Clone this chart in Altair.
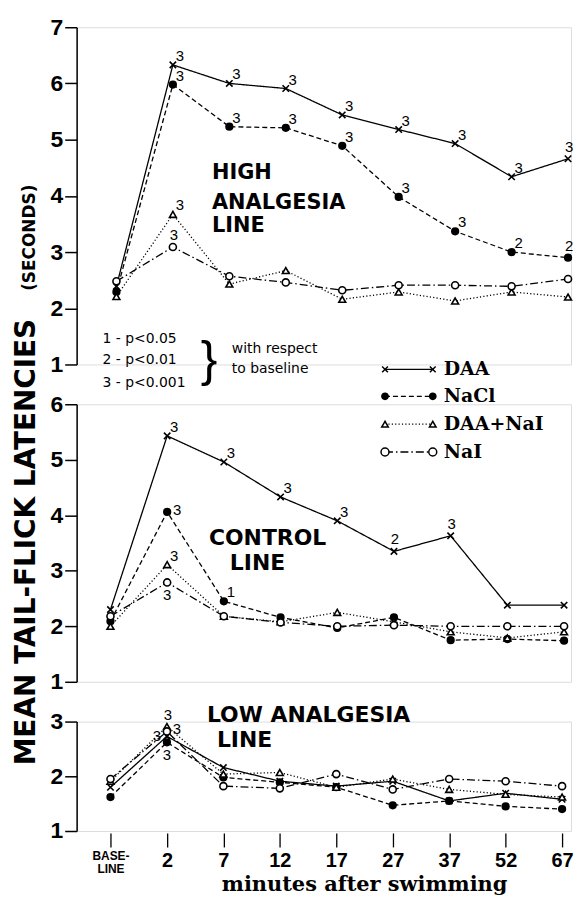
import altair as alt
import pandas as pd

# ---------------- data ----------------
cats = ["BASE-LINE", "2", "7", "12", "17", "27", "37", "52", "67"]
series = ["DAA", "NaCl", "DAA+NaI", "NaI"]

high_daa = [2.39, 6.33, 6.00, 5.91, 5.44, 5.18, 4.93, 4.34, 4.66]
high_nacl = [2.29, 5.98, 5.23, 5.21, 4.89, 3.98, 3.37, 3.00, 2.90]
high_daa_nai = [2.21, 3.67, 2.43, 2.67, 2.16, 2.29, 2.13, 2.29, 2.20]
high_nai = [2.48, 3.09, 2.57, 2.46, 2.32, 2.41, 2.41, 2.39, 2.52]

control_daa = [2.30, 5.43, 4.96, 4.33, 3.90, 3.35, 3.63, 2.38, 2.38]
control_nacl = [2.09, 4.06, 2.45, 2.16, 1.97, 2.16, 1.75, 1.77, 1.74]
control_daa_nai = [2.00, 3.11, 2.18, 2.08, 2.25, 2.08, 1.90, 1.79, 1.90]
control_nai = [2.18, 2.79, 2.18, 2.07, 2.00, 2.02, 2.00, 2.00, 2.00]

low_daa = [1.80, 2.73, 2.16, 1.91, 1.82, 1.91, 1.55, 1.69, 1.58]
low_nacl = [1.62, 2.62, 1.98, 1.89, 1.80, 1.47, 1.55, 1.45, 1.40]
low_daa_nai = [1.91, 2.91, 2.04, 2.07, 1.80, 1.95, 1.76, 1.67, 1.62]
low_nai = [1.95, 2.82, 1.82, 1.78, 2.04, 1.76, 1.95, 1.91, 1.82]

# y tick values of each panel
high_ticks = [1, 2, 3, 4, 5, 6, 7]
control_ticks = [1, 2, 3, 4, 5, 6]
low_ticks = [1, 2, 3]

# significance marks: series, category, label, placement
high_sig_series = ["DAA"] * 8 + ["NaCl"] * 8 + ["DAA+NaI", "NaI"]
high_sig_cat = cats[1:] + cats[1:] + ["2", "2"]
high_sig_text = ["3"] * 8 + ["3"] * 6 + ["2", "2"] + ["3", "3"]
high_sig_pos = ["ne"] * 7 + ["n"] + ["ne"] * 7 + ["n"] + ["ne", "n"]

control_sig_series = ["DAA"] * 6 + ["NaCl", "NaCl", "DAA+NaI", "NaI"]
control_sig_cat = ["2", "7", "12", "17", "27", "37", "2", "7", "2", "2"]
control_sig_text = ["3", "3", "3", "3", "2", "3", "3", "1", "3", "3"]
control_sig_pos = ["ne", "ne", "ne", "ne", "n", "n", "e", "ne", "ne", "s"]

low_sig_series = ["DAA+NaI", "DAA", "NaI", "NaCl"]
low_sig_cat = ["2", "2", "2", "2"]
low_sig_text = ["3", "3", "3", "3"]
low_sig_pos = ["n", "w", "e", "s"]

legend_labels = ["DAA", "NaCl", "DAA+NaI", "NaI"]
sig_note = ["1 - p<0.05", "2 - p<0.01", "3 - p<0.001"]
sig_note_right = ["with respect", "to baseline"]

# ---------------- styles ----------------
dash_range = [[1, 0], [5, 3], [1.2, 2.2], [8, 3, 1.5, 3]]
shape_range = ["M-1,-1L1,1M-1,1L1,-1", "circle", "triangle-up", "circle"]
fill_range = ["black", "black", "white", "white"]
size_range = [42, 50, 55, 80]
offsets = {"ne": (7, -9), "n": (1, -12), "s": (0, 13), "e": (10, -2), "w": (-10, 0)}

W = 497


def text_mark(text, x, y, size, font="DejaVu Sans", weight="bold",
              align="left", angle=0, baseline="alphabetic"):
    return alt.Chart(pd.DataFrame({"t": [text]})).mark_text(
        align=align, baseline=baseline, font=font, fontSize=size,
        fontWeight=weight, angle=angle, color="black"
    ).encode(x=alt.value(x), y=alt.value(y), text="t:N")


def make_panel(vals, sig, ymax, height, xrange, tick_values, xaxis, extras):
    rows = []
    for s in series:
        for i, c in enumerate(cats):
            rows.append({"series": s, "cat": c, "idx": i, "value": vals[s][i]})
    df = pd.DataFrame(rows)

    xenc = alt.X("cat:O", scale=alt.Scale(type="point", domain=cats, range=xrange, padding=0),
                 axis=xaxis, title=None)
    yenc = alt.Y("value:Q", scale=alt.Scale(domain=[1, ymax], nice=False, zero=False),
                 axis=alt.Axis(values=tick_values, labelExpr="format(datum.value, 'd')",
                               tickSize=12, tickWidth=1.5, domainWidth=1.5,
                               tickColor="black", domainColor="black", labelColor="black",
                               labelFont="Liberation Sans", labelFontWeight="bold",
                               labelFontSize=23, labelPadding=2, labelOverlap=False,
                               labelFlush=False, labelBound=False, grid=False),
                 title=None)

    lines = alt.Chart(df).mark_line(color="black", strokeWidth=1.3).encode(
        x=xenc, y=yenc,
        strokeDash=alt.StrokeDash("series:N", scale=alt.Scale(domain=series, range=dash_range), legend=None),
        order=alt.Order("idx:Q"),
    )
    points = alt.Chart(df).mark_point(filled=True, stroke="black", strokeWidth=1.6, opacity=1).encode(
        x=xenc, y=yenc,
        shape=alt.Shape("series:N", scale=alt.Scale(domain=series, range=shape_range), legend=None),
        fill=alt.Fill("series:N", scale=alt.Scale(domain=series, range=fill_range), legend=None),
        size=alt.Size("series:N", scale=alt.Scale(domain=series, range=size_range), legend=None),
    )
    layers = [lines, points]

    s_series, s_cat, s_text, s_pos = sig
    srows = []
    for s, c, t, p in zip(s_series, s_cat, s_text, s_pos):
        srows.append({"series": s, "cat": c, "label": t, "pos": p,
                      "value": vals[s][cats.index(c)]})
    sdf = pd.DataFrame(srows)
    for p, (dx, dy) in offsets.items():
        sub = sdf[sdf["pos"] == p]
        if len(sub) == 0:
            continue
        layers.append(alt.Chart(sub).mark_text(
            font="Liberation Sans", fontSize=15, dx=dx, dy=dy, color="black",
            align="center", baseline="middle").encode(x=xenc, y=yenc, text="label:N"))
    layers += extras
    return alt.layer(*layers).properties(width=W, height=height)


high = {"DAA": high_daa, "NaCl": high_nacl, "DAA+NaI": high_daa_nai, "NaI": high_nai}
control = {"DAA": control_daa, "NaCl": control_nacl, "DAA+NaI": control_daa_nai, "NaI": control_nai}
low = {"DAA": low_daa, "NaCl": low_nacl, "DAA+NaI": low_daa_nai, "NaI": low_nai}

# annotations for the top panel
high_extras = [
    text_mark("HIGH", 136, 153, 21),
    text_mark("ANALGESIA", 136, 183, 21),
    text_mark("LINE", 136, 206, 21),
]

# legend + notes + y title (drawn relative to the middle panel)
legend_y = [-35, -8, 20, 48]
control_extras = [
    text_mark("CONTROL", 133, 141, 22),
    text_mark("LINE", 154, 167, 22),
    text_mark("MEAN TAIL-FLICK LATENCIES", -42, 363, 28, angle=270),
    text_mark("(SECONDS)", -42, -114, 17, angle=270),
]
for i, s in enumerate(series):
    yv = legend_y[i]
    one = pd.DataFrame({"series": [s]})
    control_extras.append(
        alt.Chart(one).mark_rule(color="black", strokeWidth=1.3, strokeDash=dash_range[i]).encode(
            x=alt.value(310), x2=alt.value(358), y=alt.value(yv)))
    for xv in (310, 358):
        control_extras.append(
            alt.Chart(one).mark_point(shape=shape_range[i], size=size_range[i] * 0.8, filled=True,
                                      fill=fill_range[i], stroke="black", strokeWidth=1.5,
                                      opacity=1).encode(x=alt.value(xv), y=alt.value(yv)))
    control_extras.append(text_mark(legend_labels[i], 369, yv, 19, font="DejaVu Serif",
                                    baseline="middle"))
for j, t in enumerate(sig_note):
    control_extras.append(text_mark(t, 26, [-66, -44, -21][j], 14, weight="normal",
                                    baseline="middle"))
control_extras.append(text_mark("}", 133, -43, 50, font="Liberation Sans", weight="normal",
                                align="center", baseline="middle"))
for j, t in enumerate(sig_note_right):
    control_extras.append(text_mark(t, 156, [-56, -35][j], 14, weight="normal",
                                    baseline="middle"))

low_extras = [
    text_mark("LOW ANALGESIA", 131, 0, 22),
    text_mark("LINE", 141, 26, 22),
]

label_expr = "datum.value == '%s' ? ['BASE-', 'LINE'] : datum.label" % cats[0]
x_axis = alt.Axis(
    domain=False, ticks=True, tickSize=14, tickWidth=1.3, tickColor="black", tickOpacity=1,
    offset=2, labelExpr=label_expr, labelAngle=0, labelPadding=4, labelColor="black",
    labelFont="Liberation Sans", labelFontWeight="bold", labelOverlap=False,
    labelFontSize={"condition": {"test": "datum.value == '%s'" % cats[0], "value": 12}, "value": 20},
    labelLineHeight=13,
    title="minutes after swimming", titleFont="DejaVu Serif", titleFontWeight="bold",
    titleFontSize=21, titleColor="black", titleX=289, titleY=58, titleBaseline="alphabetic",
)

p1 = make_panel(high, (high_sig_series, high_sig_cat, high_sig_text, high_sig_pos),
                7, 339, [40, 494], high_ticks, None, high_extras)
p2 = make_panel(control, (control_sig_series, control_sig_cat, control_sig_text, control_sig_pos),
                6, 279, [34, 490], control_ticks, None, control_extras)
p3 = make_panel(low, (low_sig_series, low_sig_cat, low_sig_text, low_sig_pos),
                3, 110, [34, 488], low_ticks, x_axis, low_extras)

chart = alt.vconcat(p1, p2, p3, spacing=40, bounds="flush").resolve_scale(
    x="independent", y="independent"
).properties(
    padding={"left": 4, "top": 5, "right": 0, "bottom": 0}
).configure_view(strokeWidth=0).configure(background="white")

chart.save("out.html", embed_options={"renderer": "svg", "actions": False})
